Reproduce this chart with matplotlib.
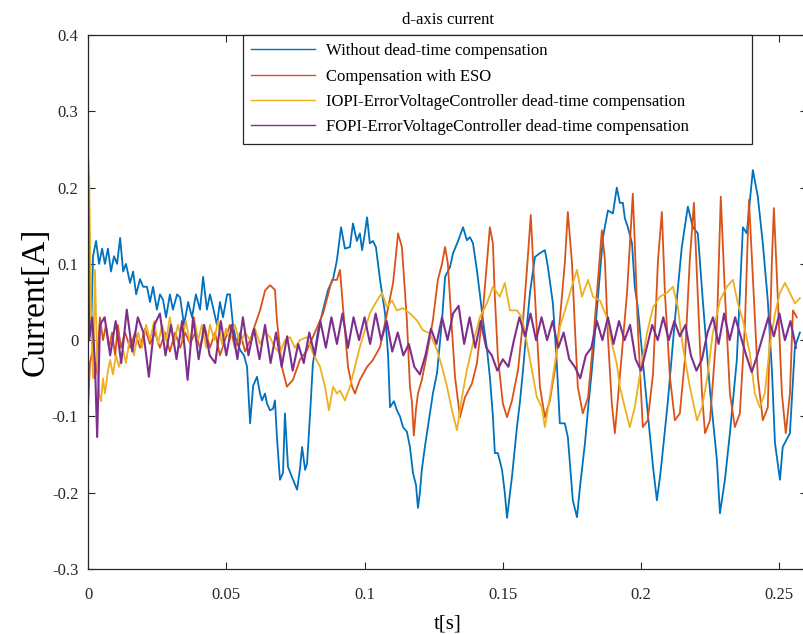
"""
d-axis current for the four dead-time compensation schemes.
Time values are in ms, currents in A; converted to seconds when drawn.
"""
import numpy as np
import matplotlib
matplotlib.use("Agg")
import matplotlib.pyplot as plt
from matplotlib.ticker import FuncFormatter


# --- Without dead-time compensation
t_without = [
    0.0, 1.1, 1.8, 2.9, 4.0, 5.1, 6.1, 7.2, 8.3, 9.4, 10.5, 11.6, 12.7, 13.7, 15.2,
    16.3, 17.4, 18.8, 19.9, 21.3, 22.4, 23.5, 24.9, 26.0, 27.1, 28.2, 29.6, 30.7,
    32.2, 33.3, 34.7, 36.2, 37.6, 39.0, 40.5, 41.6, 43.0, 44.1, 45.2, 46.6, 47.7,
    48.8, 50.3, 51.3, 52.4, 53.5, 55.0, 56.4, 57.5, 58.6, 59.7, 61.1, 62.2, 62.9,
    64.0, 64.7, 65.8, 66.9, 67.6, 68.3, 69.4, 70.5, 71.2, 72.3, 73.8, 75.6, 76.6,
    77.4, 78.5, 79.2, 80.3, 81.3, 83.2, 85.0, 86.8, 88.6, 90.0, 91.5, 92.9, 94.7,
    95.8, 97.2, 98.3, 99.1, 100.1, 100.9, 101.9, 103.0, 104.1, 105.6, 107.4, 108.5,
    109.2, 110.6, 111.7, 112.8, 113.9, 115.3, 116.4, 117.5, 118.6, 119.3, 120.0,
    120.7, 121.8, 123.6, 124.7, 126.2, 128.0, 129.1, 130.9, 132.0, 133.8, 135.6,
    137.0, 138.1, 139.2, 140.6, 141.7, 142.8, 144.2, 145.3, 146.4, 147.1, 148.2,
    149.7, 150.7, 151.5, 152.6, 153.3, 155.1, 156.2, 157.3, 158.7, 159.8, 161.6,
    163.4, 165.2, 166.3, 168.1, 169.5, 170.6, 172.4, 173.5, 175.3, 176.8, 177.9,
    179.7, 180.8, 182.2, 184.4, 186.2, 188.0, 189.8, 191.2, 192.3, 193.4, 194.1,
    195.2, 196.7, 197.7, 198.8, 200.6, 202.4, 204.3, 205.7, 206.8, 207.5, 209.7,
    212.2, 214.7, 216.9, 218.7, 220.5, 222.3, 224.9, 227.4, 228.5, 230.3, 232.1,
    234.6, 235.7, 236.8, 238.2, 240.4, 242.2, 244.0, 245.8, 247.3, 248.4, 250.2,
    251.2, 253.8, 255.6, 257.4,
]
i_without = [
    0.0, 0.01, 0.11, 0.13, 0.10, 0.12, 0.10, 0.12, 0.09, 0.11, 0.10, 0.134, 0.09,
    0.10, 0.075, 0.09, 0.06, 0.08, 0.07, 0.07, 0.05, 0.07, 0.04, 0.06, 0.053, 0.03,
    0.06, 0.04, 0.06, 0.056, 0.02, 0.05, 0.03, 0.06, 0.04, 0.083, 0.04, 0.06, 0.043,
    0.02, 0.05, 0.03, 0.06, 0.06, 0.02, 0.0, -0.013, -0.02, -0.035, -0.109, -0.06,
    -0.048, -0.07, -0.079, -0.07, -0.083, -0.092, -0.09, -0.079, -0.127, -0.183,
    -0.174, -0.096, -0.166, -0.18, -0.196, -0.17, -0.14, -0.17, -0.162, -0.096,
    -0.031, 0.013, 0.04, 0.066, 0.08, 0.105, 0.148, 0.12, 0.122, 0.153, 0.13, 0.14,
    0.118, 0.14, 0.161, 0.127, 0.13, 0.122, 0.079, 0.035, -0.02, -0.088, -0.08,
    -0.092, -0.10, -0.114, -0.12, -0.14, -0.174, -0.19, -0.22, -0.20, -0.17, -0.14,
    -0.096, -0.07, -0.043, 0.026, 0.083, 0.096, 0.114, 0.13, 0.148, 0.131, 0.135,
    0.127, 0.092, 0.06, 0.026, -0.01, -0.048, -0.10, -0.148, -0.148, -0.17, -0.20,
    -0.233, -0.20, -0.179, -0.114, -0.08, -0.039, 0.02, 0.062, 0.109, 0.114, 0.118,
    0.096, 0.048, -0.03, -0.109, -0.109, -0.127, -0.21, -0.232, -0.192, -0.135,
    -0.09, -0.039, 0.057, 0.135, 0.17, 0.166, 0.20, 0.18, 0.18, 0.16, 0.148, 0.127,
    0.07, 0.043, -0.026, -0.096, -0.166, -0.21, -0.18, -0.157, -0.079, 0.026, 0.122,
    0.175, 0.148, 0.14, 0.052, -0.066, -0.157, -0.227, -0.183, -0.122, -0.026, 0.06,
    0.148, 0.14, 0.223, 0.188, 0.127, 0.052, -0.04, -0.135, -0.183, -0.14, -0.122,
    -0.009, 0.01,
]

# --- Compensation with ESO
t_eso = [
    0.0, 0.7, 1.8, 2.5, 3.3, 4.3, 5.4, 6.5, 7.6, 8.7, 9.8, 10.8, 11.9, 13.4, 15.2,
    17.0, 18.8, 20.6, 22.4, 24.2, 26.0, 27.8, 29.6, 31.5, 33.3, 35.1, 36.9, 38.7,
    40.5, 42.3, 44.1, 45.9, 47.7, 49.5, 51.3, 53.1, 55.0, 56.8, 58.6, 60.4, 62.2,
    64.0, 65.8, 67.6, 68.3, 70.1, 71.9, 74.1, 76.6, 79.2, 81.3, 83.2, 85.0, 86.8,
    88.2, 90.0, 91.1, 92.2, 94.0, 95.4, 96.5, 98.3, 100.9, 103.0, 105.6, 108.1,
    110.3, 111.3, 112.1, 113.5, 115.3, 116.4, 117.1, 117.8, 118.6, 119.3, 120.7,
    122.6, 124.7, 126.5, 128.0, 129.1, 130.1, 131.6, 132.7, 134.5, 136.3, 138.8,
    140.6, 142.8, 144.2, 145.3, 146.4, 147.1, 148.2, 150.0, 151.5, 153.3, 155.5,
    157.3, 158.7, 160.1, 160.9, 162.3, 163.4, 165.2, 167.0, 168.8, 170.6, 172.4,
    173.5, 175.0, 176.1, 177.1, 178.9, 180.8, 182.6, 184.4, 185.8, 186.9, 188.0,
    189.4, 190.5, 192.3, 194.9, 197.0, 197.7, 198.8, 200.6, 202.4, 204.3, 206.1,
    207.5, 208.6, 210.4, 212.2, 214.0, 215.8, 217.6, 219.1, 220.2, 222.0, 223.1,
    224.9, 227.4, 228.8, 230.3, 232.1, 233.9, 235.7, 237.5, 239.0, 240.4, 242.2,
    244.0, 245.8, 247.3, 248.0, 249.1, 250.9, 252.3, 253.8, 254.9, 256.3,
]
i_eso = [
    -0.09, -0.03, -0.01, -0.05, -0.03, 0.03, 0.0, 0.02, -0.01, 0.01, -0.02, 0.02,
    -0.01, 0.01, -0.01, 0.01, -0.01, 0.015, -0.005, 0.01, -0.01, 0.01, -0.015, 0.01,
    -0.01, 0.01, -0.005, 0.01, -0.01, 0.015, -0.01, 0.01, -0.02, 0.0, 0.02, -0.01,
    0.01, -0.015, 0.0, 0.02, 0.039, 0.065, 0.072, 0.066, 0.026, -0.035, -0.061,
    -0.052, -0.026, -0.013, 0.004, 0.02, 0.035, 0.06, 0.079, 0.079, 0.092, 0.043,
    -0.035, -0.06, -0.07, -0.052, -0.035, -0.026, -0.009, 0.035, 0.075, 0.11, 0.14,
    0.122, 0.026, -0.061, -0.08, -0.125, -0.09, -0.07, -0.052, -0.017, 0.026, 0.079,
    0.10, 0.122, 0.101, 0.013, -0.048, -0.101, -0.075, -0.057, -0.031, 0.039, 0.10,
    0.148, 0.127, 0.057, -0.022, -0.083, -0.101, -0.079, -0.039, 0.026, 0.092, 0.164,
    0.105, 0.013, -0.061, -0.101, -0.079, -0.039, 0.026, 0.101, 0.168, 0.101, 0.013,
    -0.061, -0.096, -0.075, -0.004, 0.079, 0.144, 0.105, 0.004, -0.083, -0.122,
    -0.048, 0.062, 0.192, 0.127, 0.017, -0.114, -0.105, -0.044, 0.105, 0.168, 0.062,
    -0.048, -0.105, -0.096, -0.026, 0.105, 0.18, 0.083, -0.07, -0.122, -0.105, 0.017,
    0.188, 0.062, -0.07, -0.114, -0.096, 0.017, 0.184, 0.083, -0.048, -0.105, -0.088,
    0.105, 0.173, 0.083, -0.07, -0.122, -0.07, 0.039, 0.03,
]

# --- IOPI error-voltage controller
t_iopi = [
    0.0, 0.4, 1.1, 1.8, 2.5, 3.3, 4.0, 4.7, 5.4, 6.1, 7.2, 8.0, 9.0, 10.1, 11.2,
    12.7, 13.7, 15.2, 16.6, 18.1, 19.5, 21.0, 22.4, 23.9, 25.3, 26.8, 28.2, 29.6,
    31.1, 32.5, 34.0, 35.4, 36.9, 38.3, 39.8, 41.2, 42.7, 44.1, 45.6, 47.0, 48.4,
    49.9, 51.3, 53.1, 55.0, 56.8, 58.6, 60.4, 62.2, 64.0, 65.8, 67.6, 69.4, 71.2,
    73.0, 74.8, 76.6, 79.2, 81.3, 83.9, 85.7, 87.1, 88.6, 90.0, 91.1, 92.9, 94.7,
    96.5, 98.3, 100.1, 101.9, 103.4, 104.5, 106.3, 108.1, 109.9, 111.7, 113.9,
    116.4, 118.9, 121.1, 123.6, 126.2, 128.0, 129.8, 131.6, 133.4, 135.2, 137.0,
    139.2, 141.7, 144.2, 146.4, 148.9, 150.7, 152.6, 155.1, 156.9, 158.7, 160.5,
    162.3, 164.1, 165.2, 167.0, 168.8, 170.6, 173.2, 175.3, 176.8, 178.6, 180.8,
    182.6, 185.1, 187.6, 189.4, 191.2, 192.3, 194.1, 195.9, 197.7, 199.6, 202.1,
    204.3, 206.8, 209.3, 211.5, 213.3, 215.1, 217.6, 220.2, 222.0, 223.8, 225.9,
    228.5, 231.0, 233.2, 235.0, 236.8, 239.3, 241.1, 242.9, 244.7, 246.5, 248.4,
    250.2, 252.0, 253.8, 255.6, 257.4,
]
i_iopi = [
    0.245, 0.215, 0.03, -0.05, 0.092, -0.03, -0.07, -0.08, -0.05, -0.07, -0.04,
    -0.026, -0.045, -0.02, -0.035, -0.013, -0.03, 0.004, -0.02, 0.01, -0.01, 0.02,
    0.0, 0.025, -0.005, 0.02, 0.0, 0.03, -0.005, 0.02, 0.0, 0.025, -0.005, 0.03, 0.0,
    0.02, -0.01, 0.02, 0.0, 0.025, -0.005, 0.015, 0.0, 0.02, -0.005, 0.01, 0.0, 0.015,
    -0.005, 0.01, 0.004, -0.01, -0.017, 0.0, 0.004, -0.01, 0.0, 0.004, -0.017,
    -0.035, -0.061, -0.092, -0.061, -0.07, -0.066, -0.079, -0.061, -0.035, -0.009,
    0.013, 0.035, 0.045, 0.052, 0.062, 0.043, 0.052, 0.039, 0.042, 0.035, 0.026,
    0.013, 0.009, -0.013, -0.035, -0.061, -0.092, -0.118, -0.075, -0.039, -0.004,
    0.03, 0.048, 0.07, 0.057, 0.075, 0.039, 0.039, 0.03, -0.004, -0.039, -0.075,
    -0.088, -0.114, -0.075, -0.031, 0.017, 0.048, 0.075, 0.092, 0.057, 0.079, 0.057,
    0.052, 0.03, -0.004, -0.031, -0.061, -0.088, -0.114, -0.088, -0.044, 0.009,
    0.043, 0.057, 0.062, 0.07, 0.043, -0.009, -0.061, -0.105, -0.088, -0.052, 0.009,
    0.052, 0.07, 0.079, 0.048, 0.026, -0.017, -0.07, -0.088, -0.07, -0.009, 0.035,
    0.062, 0.075, 0.062, 0.048, 0.055,
]

# --- FOPI error-voltage controller: start-up transient, then a 2 ms record
t_fopi_start = [0.0, 0.4, 1.5, 2.5, 3.3, 4.3]
i_fopi_start = [0.215, 0.0, 0.03, -0.03, -0.127, 0.02]
t_fopi_run = np.arange(6, 257, 2)
i_fopi_run = [
    0.03, -0.02, 0.025, -0.03, 0.04, -0.015, 0.03, 0.01, -0.048, 0.02,
    0.035, -0.02, 0.02, -0.025, 0.025, -0.052, 0.03, -0.025, 0.02, -0.02,
    -0.03, 0.025, -0.02, 0.02, -0.025, 0.03, -0.02, 0.015, -0.025, 0.02,
    -0.03, 0.01, -0.035, 0.005, -0.04, -0.005, -0.03, 0.01, -0.02, 0.025,
    -0.01, 0.03, -0.005, 0.035, -0.01, 0.03, 0.0, 0.03, -0.005, 0.035,
    0.0, 0.025, -0.015, 0.01, -0.02, -0.005, -0.035, -0.045, -0.02, 0.015,
    -0.005, 0.03, 0.0, 0.035, 0.045, -0.005, 0.03, -0.01, 0.025, -0.01,
    -0.02, -0.04, -0.025, -0.035, 0.0, 0.03, 0.005, 0.035, 0.0, 0.03,
    0.0, 0.025, -0.01, 0.01, -0.025, -0.035, -0.05, -0.02, -0.01, 0.025,
    0.0, 0.03, -0.005, 0.025, 0.0, 0.02, -0.025, -0.04, -0.01, 0.02,
    0.0, 0.03, 0.0, 0.025, 0.005, 0.02, -0.02, -0.04, -0.025, 0.01,
    0.03, -0.005, 0.035, 0.0, 0.03, 0.005, -0.02, -0.042, -0.02, 0.005,
    0.03, 0.005, 0.035, 0.0, 0.025, -0.01,
]
t_fopi = np.concatenate([t_fopi_start, t_fopi_run])
i_fopi = np.concatenate([i_fopi_start, i_fopi_run])

LABELS = [
    "Without dead-time compensation",
    "Compensation with ESO",
    "IOPI-ErrorVoltageController dead-time compensation",
    "FOPI-ErrorVoltageController dead-time compensation",
]
COLORS = ["#0072BD", "#D95319", "#EDB120", "#7E2F8E"]

plt.rcParams["font.family"] = ["Liberation Serif", "DejaVu Serif"]

fig = plt.figure(figsize=(8.04, 6.34), dpi=100)
ax = fig.add_axes([0.1095, 0.1025, 0.8943, 0.8423])

series = [
    (t_without, i_without),
    (t_eso, i_eso),
    (t_iopi, i_iopi),
    (t_fopi, i_fopi),
]
widths = [1.3, 1.3, 1.3, 1.5]
for (t_ms, cur), color, label, lw in zip(series, COLORS, LABELS, widths):
    ax.plot(np.asarray(t_ms) / 1000.0, cur, color=color, lw=lw, label=label)

ax.set_xlim(0, 0.26)
ax.set_ylim(-0.3, 0.4)
ax.set_xticks([0, 0.05, 0.1, 0.15, 0.2, 0.25])
ax.set_yticks(np.arange(-0.3, 0.41, 0.1))
ax.xaxis.set_major_formatter(FuncFormatter(lambda v, p: f"{v:g}"))
ax.yaxis.set_major_formatter(FuncFormatter(lambda v, p: f"{round(v, 2):g}"))
ax.tick_params(direction="in", top=True, right=True, length=5, width=0.8,
               labelsize=12, colors="#262626")
ax.tick_params(axis="x", pad=13)
ax.tick_params(axis="y", pad=7)
for sp in ax.spines.values():
    sp.set_linewidth(0.9)
    sp.set_color("#262626")

ax.set_title("d-axis current", fontsize=12, pad=8)
ax.set_xlabel("t[s]", fontsize=15, labelpad=8)
ax.set_ylabel("Current[A]", fontsize=24, labelpad=1)

leg = ax.legend(loc="upper left", bbox_to_anchor=(0.2156, 0.8034, 0.708, 0.1966),
                mode="expand", borderaxespad=0, fancybox=False, framealpha=1,
                edgecolor="#262626", fontsize=12, handlelength=3.8,
                handletextpad=0.7, labelspacing=0.56, borderpad=0.5)
leg.get_frame().set_linewidth(0.9)
for line in leg.get_lines():
    line.set_linewidth(1.0)

fig.savefig("out.png", dpi=100)
